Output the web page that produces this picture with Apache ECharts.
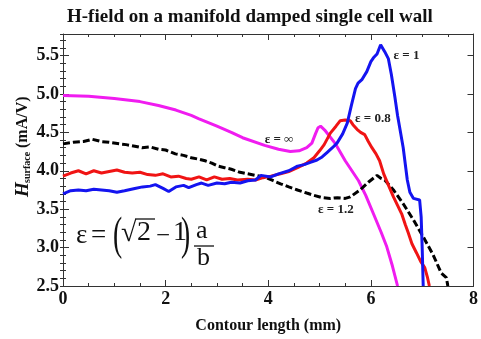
<!DOCTYPE html>
<html>
<head>
<meta charset="utf-8">
<script src="https://cdn.jsdelivr.net/npm/echarts@6/dist/echarts.min.js"></script>
<style>
  html, body { margin: 0; padding: 0; background: #fff; }
  #chart { width: 481px; height: 339px; }
</style>
</head>
<body>
<div id="chart"></div>
<script>
// H-field curves (x: mm, y: mA/V)
const epsOne = [
  [0, 3.70], [0.15, 3.74], [0.3, 3.75], [0.45, 3.74], [0.6, 3.76], [0.75, 3.75], [0.9, 3.74],
  [1.05, 3.72], [1.2, 3.74], [1.4, 3.77], [1.55, 3.79], [1.7, 3.80], [1.8, 3.82], [1.95, 3.77],
  [2.06, 3.73], [2.2, 3.79], [2.35, 3.81], [2.45, 3.78], [2.6, 3.82], [2.7, 3.84], [2.83, 3.81],
  [3.0, 3.84], [3.15, 3.83], [3.28, 3.85], [3.45, 3.84], [3.6, 3.87], [3.75, 3.88], [3.86, 3.94],
  [4.05, 3.92], [4.2, 3.96], [4.4, 4.00], [4.57, 4.06], [4.7, 4.08], [4.82, 4.11], [4.95, 4.14],
  [5.05, 4.18], [5.15, 4.24], [5.25, 4.30], [5.34, 4.36], [5.45, 4.48], [5.54, 4.62], [5.62, 4.85],
  [5.7, 5.07], [5.75, 5.14], [5.83, 5.19], [5.92, 5.29], [6.0, 5.42], [6.05, 5.47], [6.12, 5.52],
  [6.19, 5.64], [6.27, 5.55], [6.34, 5.46], [6.4, 5.25], [6.47, 4.95], [6.52, 4.72], [6.58, 4.49],
  [6.63, 4.30], [6.71, 3.88], [6.76, 3.72], [6.83, 3.64], [6.95, 3.62], [6.98, 3.40], [7.0, 3.0],
  [7.02, 2.5]
];
const epsPoint8 = [
  [0, 3.93], [0.15, 3.97], [0.3, 4.00], [0.45, 3.96], [0.6, 4.00], [0.75, 3.97], [0.9, 3.99],
  [1.05, 4.01], [1.2, 3.98], [1.35, 3.97], [1.5, 3.98], [1.65, 3.95], [1.8, 3.94], [1.95, 3.96],
  [2.1, 3.92], [2.25, 3.93], [2.4, 3.90], [2.5, 3.89], [2.65, 3.92], [2.8, 3.88], [2.95, 3.92],
  [3.1, 3.89], [3.25, 3.90], [3.4, 3.88], [3.6, 3.89], [3.75, 3.88], [3.9, 3.91], [4.05, 3.93],
  [4.24, 3.96], [4.4, 3.99], [4.57, 4.04], [4.75, 4.10], [4.89, 4.17], [5.0, 4.26], [5.09, 4.34],
  [5.21, 4.49], [5.32, 4.58], [5.4, 4.65], [5.5, 4.66], [5.6, 4.65], [5.65, 4.60], [5.73, 4.54],
  [5.8, 4.50], [5.88, 4.47], [5.95, 4.38], [6.02, 4.30], [6.1, 4.22], [6.17, 4.13], [6.25, 3.96],
  [6.35, 3.80], [6.44, 3.66], [6.52, 3.55], [6.6, 3.44], [6.67, 3.30], [6.73, 3.19], [6.8, 3.05],
  [6.89, 2.93], [6.97, 2.82], [7.05, 2.74], [7.1, 2.62], [7.14, 2.5]
];
const epsOnePoint2 = [
  [0, 4.35], [0.2, 4.37], [0.4, 4.38], [0.57, 4.41], [0.75, 4.38], [0.9, 4.37], [1.1, 4.35],
  [1.23, 4.34], [1.4, 4.32], [1.54, 4.30], [1.7, 4.31], [1.86, 4.28], [2.0, 4.27], [2.19, 4.22],
  [2.35, 4.20], [2.5, 4.17], [2.65, 4.15], [2.77, 4.13], [2.9, 4.10], [3.02, 4.06], [3.15, 4.04],
  [3.28, 4.02], [3.45, 3.98], [3.6, 3.96], [3.75, 3.94], [3.93, 3.92], [4.1, 3.87], [4.24, 3.83],
  [4.4, 3.79], [4.57, 3.75], [4.75, 3.71], [4.89, 3.68], [5.05, 3.65], [5.21, 3.64], [5.35, 3.65],
  [5.5, 3.64], [5.6, 3.66], [5.79, 3.75], [5.95, 3.85], [6.12, 3.94], [6.2, 3.90], [6.27, 3.88],
  [6.44, 3.75], [6.63, 3.57], [6.83, 3.36], [7.02, 3.14], [7.21, 2.91], [7.37, 2.67], [7.47, 2.61],
  [7.5, 2.5]
];
const epsInf = [
  [0, 4.98], [0.5, 4.97], [1.0, 4.94], [1.5, 4.90], [1.86, 4.85], [2.2, 4.79], [2.5, 4.72],
  [2.64, 4.68], [3.0, 4.58], [3.28, 4.50], [3.5, 4.43], [3.93, 4.33], [4.2, 4.28], [4.43, 4.25],
  [4.6, 4.26], [4.75, 4.30], [4.85, 4.36], [4.92, 4.48], [4.97, 4.56], [5.02, 4.58], [5.1, 4.53],
  [5.3, 4.36], [5.5, 4.13], [5.76, 3.87], [5.9, 3.68], [6.05, 3.44], [6.2, 3.20], [6.31, 3.01],
  [6.42, 2.76], [6.52, 2.5]
];

// curve labels: [text, x, y] (left edge, vertical middle)
const curveLabels = [
  ["ε = 1", 6.44, 5.50],
  ["ε = 0.8", 5.69, 4.68],
  ["ε = ∞", 3.93, 4.40],
  ["ε = 1.2", 4.97, 3.50]
];

const xTicks = [0, 8, 2];       // min, max, interval
const yTicks = [2.5, 5.78, 0.5];

const SERIF = '"Liberation Serif", "DejaVu Serif", serif';
const AXIS_COLOR = "#333";

const majorAxis = (extra) => Object.assign({
  type: "value",
  axisLine: { show: true, onZero: false, lineStyle: { color: AXIS_COLOR, width: 1 } },
  axisTick: { show: true, inside: true, length: 6, lineStyle: { color: AXIS_COLOR } },
  splitLine: { show: false },
}, extra);

const chart = echarts.init(document.getElementById("chart"));

chart.setOption({
  animation: false,
  backgroundColor: "#fff",
  title: {
    text: "H-field on a manifold damped single cell wall",
    left: 67, top: 8, padding: 0,
    textStyle: { fontFamily: SERIF, fontWeight: "bold", fontSize: 19, color: "#111" }
  },
  grid: { left: 63, right: 4, top: 34, bottom: 49 },
  xAxis: [
    majorAxis({
      position: "bottom", min: xTicks[0], max: xTicks[1], interval: xTicks[2],
      minorTick: { show: true, splitNumber: 4, length: 3, lineStyle: { color: AXIS_COLOR } },
      axisLabel: { fontFamily: SERIF, fontWeight: "bold", fontSize: 18, color: "#111", margin: 4 },
      name: "Contour length (mm)", nameLocation: "middle", nameGap: 32,
      nameTextStyle: { fontFamily: SERIF, fontWeight: "bold", fontSize: 16, color: "#111" }
    }),
    majorAxis({
      position: "top", min: xTicks[0], max: xTicks[1], interval: xTicks[2],
      minorTick: { show: true, splitNumber: 4, length: 3, lineStyle: { color: AXIS_COLOR } },
      axisLabel: { show: false }
    })
  ],
  yAxis: [
    majorAxis({
      position: "left", min: yTicks[0], max: yTicks[1], interval: yTicks[2],
      axisLabel: {
        fontFamily: SERIF, fontWeight: "bold", fontSize: 18, color: "#111", margin: 4,
        formatter: (v) => Math.abs(v * 2 - Math.round(v * 2)) < 1e-6 ? v.toFixed(1) : ""
      }
    }),
    majorAxis({
      position: "right", min: yTicks[0], max: yTicks[1], interval: yTicks[2],
      axisLabel: { show: false }
    }),
    majorAxis({
      position: "left", min: yTicks[0], max: yTicks[1], interval: 0.1,
      axisLine: { show: false }, axisLabel: { show: false },
      axisTick: { show: true, inside: true, length: 3, lineStyle: { color: AXIS_COLOR } }
    }),
    majorAxis({
      position: "right", min: yTicks[0], max: yTicks[1], interval: 0.1,
      axisLine: { show: false }, axisLabel: { show: false },
      axisTick: { show: true, inside: true, length: 3, lineStyle: { color: AXIS_COLOR } }
    })
  ],
  series: [
    { name: "ε = ∞", type: "line", data: epsInf, showSymbol: false, clip: true,
      lineStyle: { color: "#f01cf0", width: 3 } },
    { name: "ε = 1.2", type: "line", data: epsOnePoint2, showSymbol: false, clip: true,
      lineStyle: { color: "#000", width: 3, type: [7, 3] } },
    { name: "ε = 0.8", type: "line", data: epsPoint8, showSymbol: false, clip: true,
      lineStyle: { color: "#f01414", width: 3 } },
    { name: "ε = 1", type: "line", data: epsOne, showSymbol: false, clip: true,
      lineStyle: { color: "#1414f0", width: 3 } }
  ]
});

// annotations placed after layout so labels follow the axes
const graphics = curveLabels.map(([text, x, y]) => {
  const [px, py] = chart.convertToPixel({ xAxisIndex: 0, yAxisIndex: 0 }, [x, y]);
  return {
    type: "text", x: px, y: py, z: 10,
    style: { text, fontFamily: SERIF, fontWeight: "bold", fontSize: 13, fill: "#222",
             align: "left", verticalAlign: "middle" }
  };
});

// y axis name: H_surface (mA/V), rotated
graphics.push({
  type: "group", x: 23, y: 197, rotation: Math.PI / 2,
  children: [
    { type: "text", x: 0, y: 0, style: { text: "H", fontFamily: SERIF, fontStyle: "italic",
      fontWeight: "bold", fontSize: 19, fill: "#111", verticalAlign: "middle" } },
    { type: "text", x: 14, y: 4, style: { text: "surface", fontFamily: SERIF,
      fontWeight: "bold", fontSize: 10, fill: "#111", verticalAlign: "middle" } },
    { type: "text", x: 49, y: 0, style: { text: "(mA/V)", fontFamily: SERIF,
      fontWeight: "bold", fontSize: 16, fill: "#111", verticalAlign: "middle" } }
  ]
});

// formula ε = (√2 − 1) a/b
const f = (text, x, y, size, extra) => ({
  type: "text", x, y, z: 10, ...(extra || {}),
  style: { text, fontFamily: SERIF, fontSize: size, fill: "#111", verticalAlign: "middle" }
});
graphics.push(
  f("ε", 76, 236, 27),
  f("=", 91, 236, 27),
  f("(", 113, 237, 46, { scaleX: 0.6 }),
  f("√", 121, 234, 28),
  f("2", 137, 233, 28),
  f("−", 156, 236, 25),
  f("1", 173, 233, 28),
  f(")", 181, 237, 46, { scaleX: 0.6 }),
  f("a", 196, 231, 26),
  f("b", 197, 258, 26),
  { type: "line", z: 10, shape: { x1: 135, y1: 219, x2: 155, y2: 219 },
    style: { stroke: "#111", lineWidth: 1.3 } },
  { type: "line", z: 10, shape: { x1: 194, y1: 246, x2: 214, y2: 246 },
    style: { stroke: "#111", lineWidth: 1.3 } }
);

chart.setOption({ graphic: graphics });
</script>
</body>
</html>
